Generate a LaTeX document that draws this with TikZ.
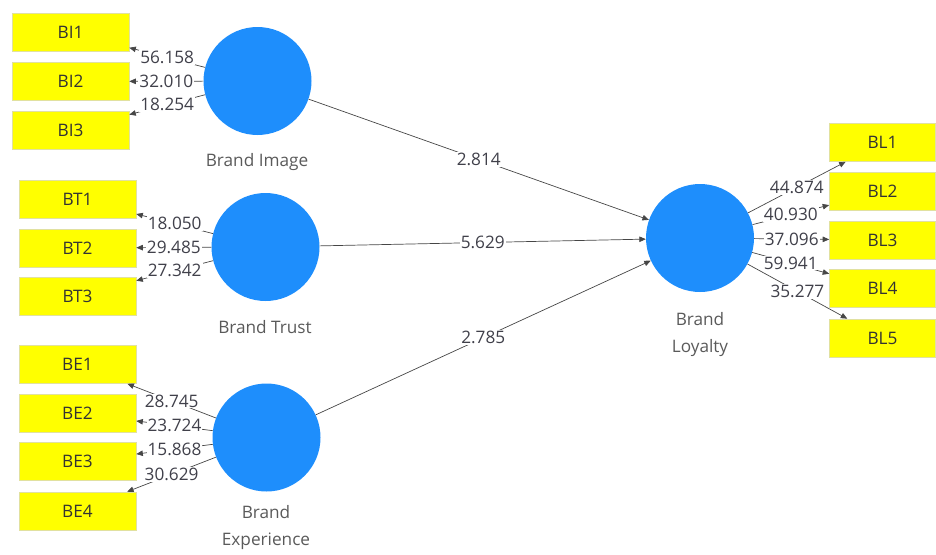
\documentclass[tikz,border=0pt]{standalone}
\usepackage{fontspec}
\setmainfont{Open Sans}
\usetikzlibrary{arrows.meta}
\definecolor{lvblue}{RGB}{30,142,252}
\definecolor{indyellow}{RGB}{255,255,0}
\definecolor{indedge}{RGB}{225,225,160}
\definecolor{edgegray}{RGB}{70,70,70}
\definecolor{valtext}{RGB}{64,64,74}
\definecolor{lvtext}{RGB}{90,90,90}
\begin{document}
\begin{tikzpicture}[x=1pt,y=-1pt,
  every node/.style={font=\fontsize{17.2}{27}\selectfont},
  ind/.style={rectangle, fill=indyellow, draw=indedge, line width=0.6pt,
    minimum width=117pt, minimum height=38pt, inner sep=0pt, text=black!80},
  indr/.style={ind, minimum width=106pt},
  latent/.style={circle, fill=lvblue, minimum size=108pt, inner sep=0pt},
  lvlabel/.style={text=lvtext, align=center},
  link/.style={draw=edgegray, line width=0.7pt, -{Triangle[length=6.5pt,width=5.5pt]}},
  val/.style={fill=white, text=valtext, inner sep=1pt, midway}]
\useasboundingbox (0,0) rectangle (936,554);

% latent variables
\node[latent] (BI) at (257.5,81) {};
\node[latent] (BT) at (265.5,247) {};
\node[latent] (BE) at (266.5,437.5) {};
\node[latent] (BL) at (700,238) {};

\node[lvlabel] (BIlab) at (257,162) {Brand Image};
\node[lvlabel] (BTlab) at (265,327) {Brand Trust};
\node[lvlabel] (BElab) at (266,528) {Brand\\Experience};
\node[lvlabel] (BLlab) at (700,335) {Brand\\Loyalty};

% indicators
\node[ind] (BI1) at (70.5,32.5) {BI1};
\node[ind] (BI2) at (70.5,81.5) {BI2};
\node[ind] (BI3) at (70.5,130) {BI3};

\node[ind] (BT1) at (77.5,199) {BT1};
\node[ind] (BT2) at (77.5,248) {BT2};
\node[ind] (BT3) at (77.5,296) {BT3};

\node[ind] (BE1) at (77.5,364.5) {BE1};
\node[ind] (BE2) at (77.5,413.5) {BE2};
\node[ind] (BE3) at (77.5,461.5) {BE3};
\node[ind] (BE4) at (77.5,511) {BE4};

\node[indr] (BL1) at (882.5,142.5) {BL1};
\node[indr] (BL2) at (882.5,191.5) {BL2};
\node[indr] (BL3) at (882.5,240) {BL3};
\node[indr] (BL4) at (882.5,288.5) {BL4};
\node[indr] (BL5) at (882.5,338) {BL5};

% outer loadings
\draw[link] (BI) -- node[val] {56.158} (BI1);
\draw[link] (BI) -- node[val] {32.010} (BI2);
\draw[link] (BI) -- node[val] {18.254} (BI3);

\draw[link] (BT) -- node[val] {18.050} (BT1);
\draw[link] (BT) -- node[val] {29.485} (BT2);
\draw[link] (BT) -- node[val] {27.342} (BT3);

\draw[link] (BE) -- node[val] {28.745} (BE1);
\draw[link] (BE) -- node[val] {23.724} (BE2);
\draw[link] (BE) -- node[val] {15.868} (BE3);
\draw[link] (BE) -- node[val] {30.629} (BE4);

\draw[link] (BL) -- node[val] {44.874} (BL1);
\draw[link] (BL) -- node[val] {40.930} (BL2);
\draw[link] (BL) -- node[val] {37.096} (BL3);
\draw[link] (BL) -- node[val] {59.941} (BL4);
\draw[link] (BL) -- node[val] {35.277} (BL5);

% structural paths
\draw[link] (BI) -- node[val] {2.814} (BL);
\draw[link] (BT) -- node[val] {5.629} (BL);
\draw[link] (BE) -- node[val] {2.785} (BL);
\end{tikzpicture}
\end{document}
